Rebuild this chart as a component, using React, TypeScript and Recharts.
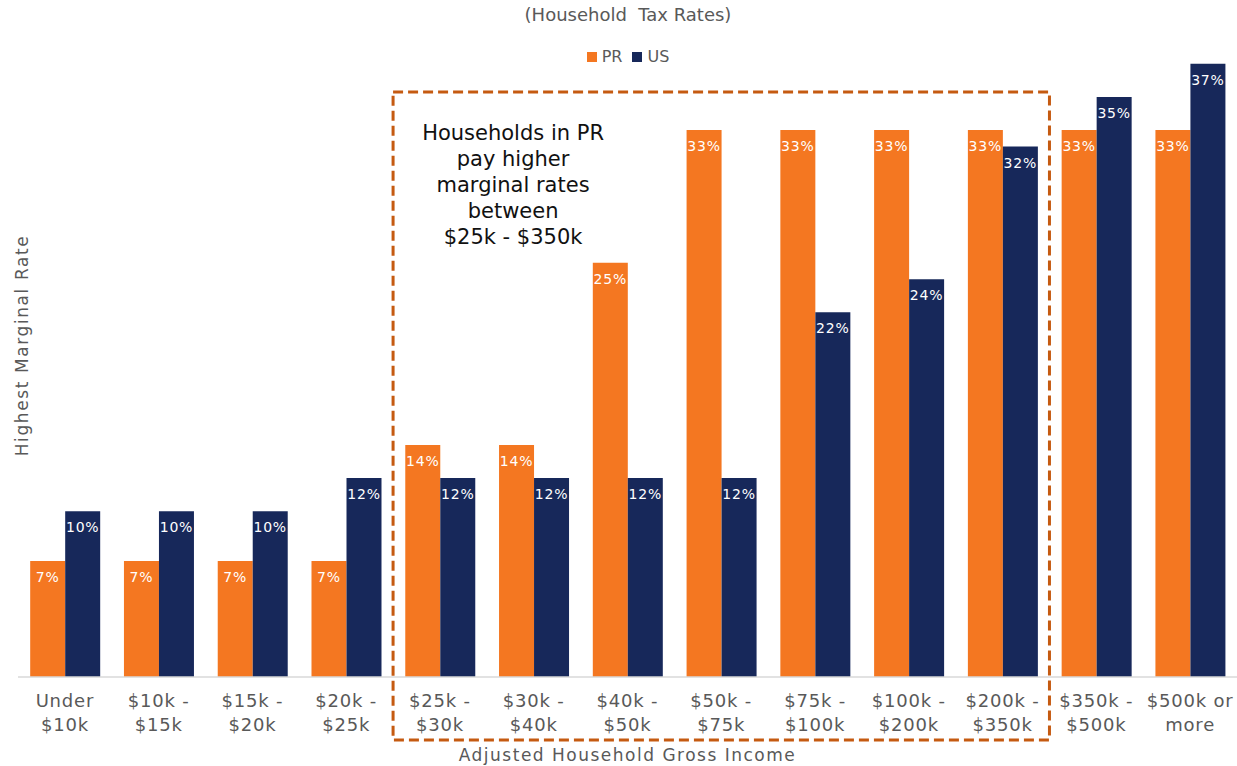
import React from 'react';
import { BarChart, Bar, XAxis, YAxis, ReferenceArea, LabelList } from 'recharts';

const categories = [
  'Under $10k', '$10k - $15k', '$15k - $20k', '$20k - $25k', '$25k - $30k', '$30k - $40k',
  '$40k - $50k', '$50k - $75k', '$75k - $100k', '$100k - $200k', '$200k - $350k',
  '$350k - $500k', '$500k or more',
];
const tickLines = [
  ['Under', '$10k'], ['$10k -', '$15k'], ['$15k -', '$20k'], ['$20k -', '$25k'],
  ['$25k -', '$30k'], ['$30k -', '$40k'], ['$40k -', '$50k'], ['$50k -', '$75k'],
  ['$75k -', '$100k'], ['$100k -', '$200k'], ['$200k -', '$350k'], ['$350k -', '$500k'],
  ['$500k or', 'more'],
];
const prRates = [7, 7, 7, 7, 14, 14, 25, 33, 33, 33, 33, 33, 33];
const usRates = [10, 10, 10, 12, 12, 12, 12, 12, 22, 24, 32, 35, 37];
const seriesNames = ['PR', 'US'];
const seriesColors = ['#F47721', '#17285A'];
const title = '(Household  Tax Rates)';
const xTitle = 'Adjusted Household Gross Income';
const yTitle = 'Highest Marginal Rate';
const calloutLines = ['Households in PR', 'pay higher', 'marginal rates', 'between', '$25k - $350k'];
const calloutFrom = '$25k - $30k';
const calloutTo = '$200k - $350k';
const calloutLow = -3.8;
const calloutHigh = 35.3;

const W = 1237;
const H = 766;
const FONT = "'DejaVu Sans', sans-serif";
const GRAY = '#595959';

const data = categories.map((c, i) => ({ category: c, PR: prRates[i], US: usRates[i] }));

function CategoryTick(props: any) {
  const { x, y, payload } = props;
  const idx = categories.indexOf(payload.value);
  const lines = idx >= 0 ? tickLines[idx] : [String(payload.value)];
  return (
    <text x={x} y={y} textAnchor="middle" fill={GRAY} fontSize={18} letterSpacing={0.8} fontFamily={FONT}>
      {lines.map((l, i) => (
        <tspan key={i} x={x} dy={i === 0 ? 30 : 24}>{l}</tspan>
      ))}
    </text>
  );
}

function CalloutLabel(props: any) {
  const vb = props.viewBox || {};
  const cx = vb.x + 120;
  const y0 = vb.y + 48;
  return (
    <text textAnchor="middle" fill="#111111" fontSize={21} fontFamily={FONT}>
      {calloutLines.map((l, i) => (
        <tspan key={i} x={cx} y={y0 + i * 26}>{l}</tspan>
      ))}
    </text>
  );
}

function YTitle(props: any) {
  const vb = props.viewBox || {};
  const x = 22;
  const y = vb.y + vb.height / 2;
  return (
    <text x={x} y={y} transform={`rotate(-90, ${x}, ${y})`} textAnchor="middle" dominantBaseline="central"
      fill={GRAY} fontSize={17} letterSpacing={1.6} fontFamily={FONT}>
      {yTitle}
    </text>
  );
}

function XTitle(props: any) {
  const vb = props.viewBox || {};
  const x = vb.x + vb.width / 2;
  return (
    <text x={x} y={761} textAnchor="middle" fill={GRAY} fontSize={17} letterSpacing={1.5} fontFamily={FONT}>
      {xTitle}
    </text>
  );
}

export default function App() {
  return (
    <div style={{ position: 'absolute', left: 0, top: 0, width: W, height: H, background: '#fff', fontFamily: FONT }}>
      <div style={{ position: 'absolute', left: 0, top: 4, width: 1256, textAlign: 'center', color: GRAY, fontSize: 18, whiteSpace: 'pre' }}>
        {title}
      </div>
      <div style={{ position: 'absolute', left: 0, top: 47, width: 1256, display: 'flex', justifyContent: 'center', alignItems: 'center', color: GRAY, fontSize: 16 }}>
        {seriesNames.map((n, i) => (
          <div key={n} style={{ display: 'flex', alignItems: 'center', marginRight: i === 0 ? 10 : 0 }}>
            <div style={{ width: 10, height: 10, background: seriesColors[i], marginRight: 5 }} />
            <span>{n}</span>
          </div>
        ))}
      </div>
      <div style={{ position: 'absolute', left: 0, top: 0 }}>
        <BarChart width={W} height={H} data={data} margin={{ top: 14, right: 0, bottom: 0, left: 0 }}
          barCategoryGap="13%" barGap={0}>
          <XAxis dataKey="category" height={89} interval={0} tickLine={false} tickSize={0} tickMargin={0}
            axisLine={{ stroke: '#D9D9D9', strokeWidth: 1.5 }} tick={<CategoryTick />} label={<XTitle />} />
          <YAxis domain={[0, 40]} width={18} tick={false} axisLine={false} tickLine={false} label={<YTitle />} />
          {seriesNames.map((n, i) => (
            <Bar key={n} dataKey={n} fill={seriesColors[i]} isAnimationActive={false}>
              <LabelList dataKey={n} position="insideTop" offset={11} fill="#ffffff" fontSize={14}
                letterSpacing={0.8} fontFamily={FONT} formatter={(v: any) => `${v}%`} />
            </Bar>
          ))}
          <ReferenceArea x1={calloutFrom} x2={calloutTo} y1={calloutLow} y2={calloutHigh} ifOverflow="visible"
            fill="none" fillOpacity={0} stroke="#C55A11" strokeWidth={3} strokeDasharray="10 5"
            label={<CalloutLabel />} />
        </BarChart>
      </div>
    </div>
  );
}
